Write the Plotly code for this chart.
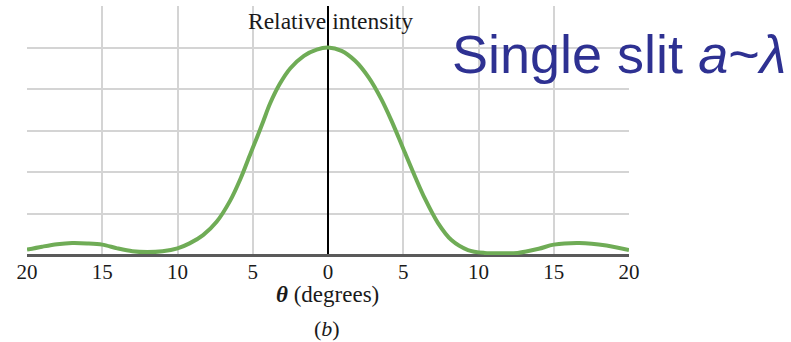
import plotly.graph_objects as go

theta_deg = [-20, -19, -18, -17, -16, -15, -14, -13, -12, -11, -10, -9.2, -8.3, -7.4, -6.5,
             -5.8, -5.2, -4.7, -4.3, -3.85, -3.2, -2.5, -1.6, -0.75, 0, 0.9, 1.8, 2.7, 3.55,
             4.2, 4.7, 5.1, 5.8, 6.45, 7.3, 8.2, 9.3, 10.4, 11.5, 12.6, 14, 15, 16.7, 18.5, 20]
rel_intensity = [0.026, 0.04, 0.052, 0.058, 0.056, 0.05, 0.032, 0.018, 0.014, 0.018, 0.032,
                 0.056, 0.096, 0.16, 0.262, 0.37, 0.48, 0.57, 0.645, 0.73, 0.825, 0.9,
                 0.96, 0.99, 1.0, 0.984, 0.936, 0.856, 0.75, 0.65, 0.565, 0.495, 0.375,
                 0.27, 0.155, 0.072, 0.024, 0.01, 0.008, 0.01, 0.03, 0.05, 0.058, 0.046, 0.024]
tick_vals = [-20, -15, -10, -5, 0, 5, 10, 15, 20]
tick_text = ["20", "15", "10", "5", "0", "5", "10", "15", "20"]

W, H = 791, 342
L, R, T, B = 27, 629, 6, 255

fig = go.Figure()
fig.add_trace(go.Scatter(x=theta_deg, y=rel_intensity, mode="lines",
                         line=dict(color="#6fac56", width=4, shape="spline", smoothing=0.9),
                         hoverinfo="skip"))

serif = "Liberation Serif, Times New Roman, serif"
fig.update_layout(
    width=W, height=H,
    margin=dict(l=L, r=W - R, t=T, b=H - B),
    paper_bgcolor="white", plot_bgcolor="white",
    showlegend=False,
    xaxis=dict(range=[-20, 20], tickvals=tick_vals, ticktext=tick_text,
               showgrid=True, gridcolor="#d4d4d4", gridwidth=1.5,
               zeroline=True, zerolinecolor="black", zerolinewidth=1.5,
               showline=False, ticks="", ticklabelstandoff=2,
               tickfont=dict(family=serif, size=21, color="#1a1a1a")),
    yaxis=dict(range=[0, 1.2], dtick=0.2, showticklabels=False,
               showgrid=True, gridcolor="#d4d4d4", gridwidth=1.5,
               zeroline=True, zerolinecolor="#5a5a5a", zerolinewidth=3,
               showline=False, ticks=""),
)

def px_x(p):
    return (p - L) / (R - L)

def px_y(p):
    return (B - p) / (B - T)

fig.add_annotation(text="Relative intensity", xref="paper", yref="paper",
                   x=px_x(330), y=px_y(21), xanchor="center", yanchor="middle",
                   showarrow=False, font=dict(family=serif, size=23.5, color="#1a1a1a"))
fig.add_annotation(text="<b><i>θ</i></b> (degrees)", xref="paper", yref="paper",
                   x=px_x(327), y=px_y(294), xanchor="center", yanchor="middle",
                   showarrow=False, font=dict(family=serif, size=23, color="#1a1a1a"))
fig.add_annotation(text="(<i>b</i>)", xref="paper", yref="paper",
                   x=px_x(327), y=px_y(328), xanchor="center", yanchor="middle",
                   showarrow=False, font=dict(family=serif, size=22, color="#1a1a1a"))
fig.add_annotation(text="Single slit <i>a</i>~<i>λ</i>", xref="paper", yref="paper",
                   x=px_x(450), y=px_y(53.5), xanchor="left", yanchor="middle",
                   showarrow=False,
                   font=dict(family="Liberation Sans, Arial, sans-serif", size=54, color="#2e3192"))

fig.write_html("out.html", config={"displayModeBar": False},
               post_script="document.body.style.margin='0';document.body.style.overflow='hidden';")
